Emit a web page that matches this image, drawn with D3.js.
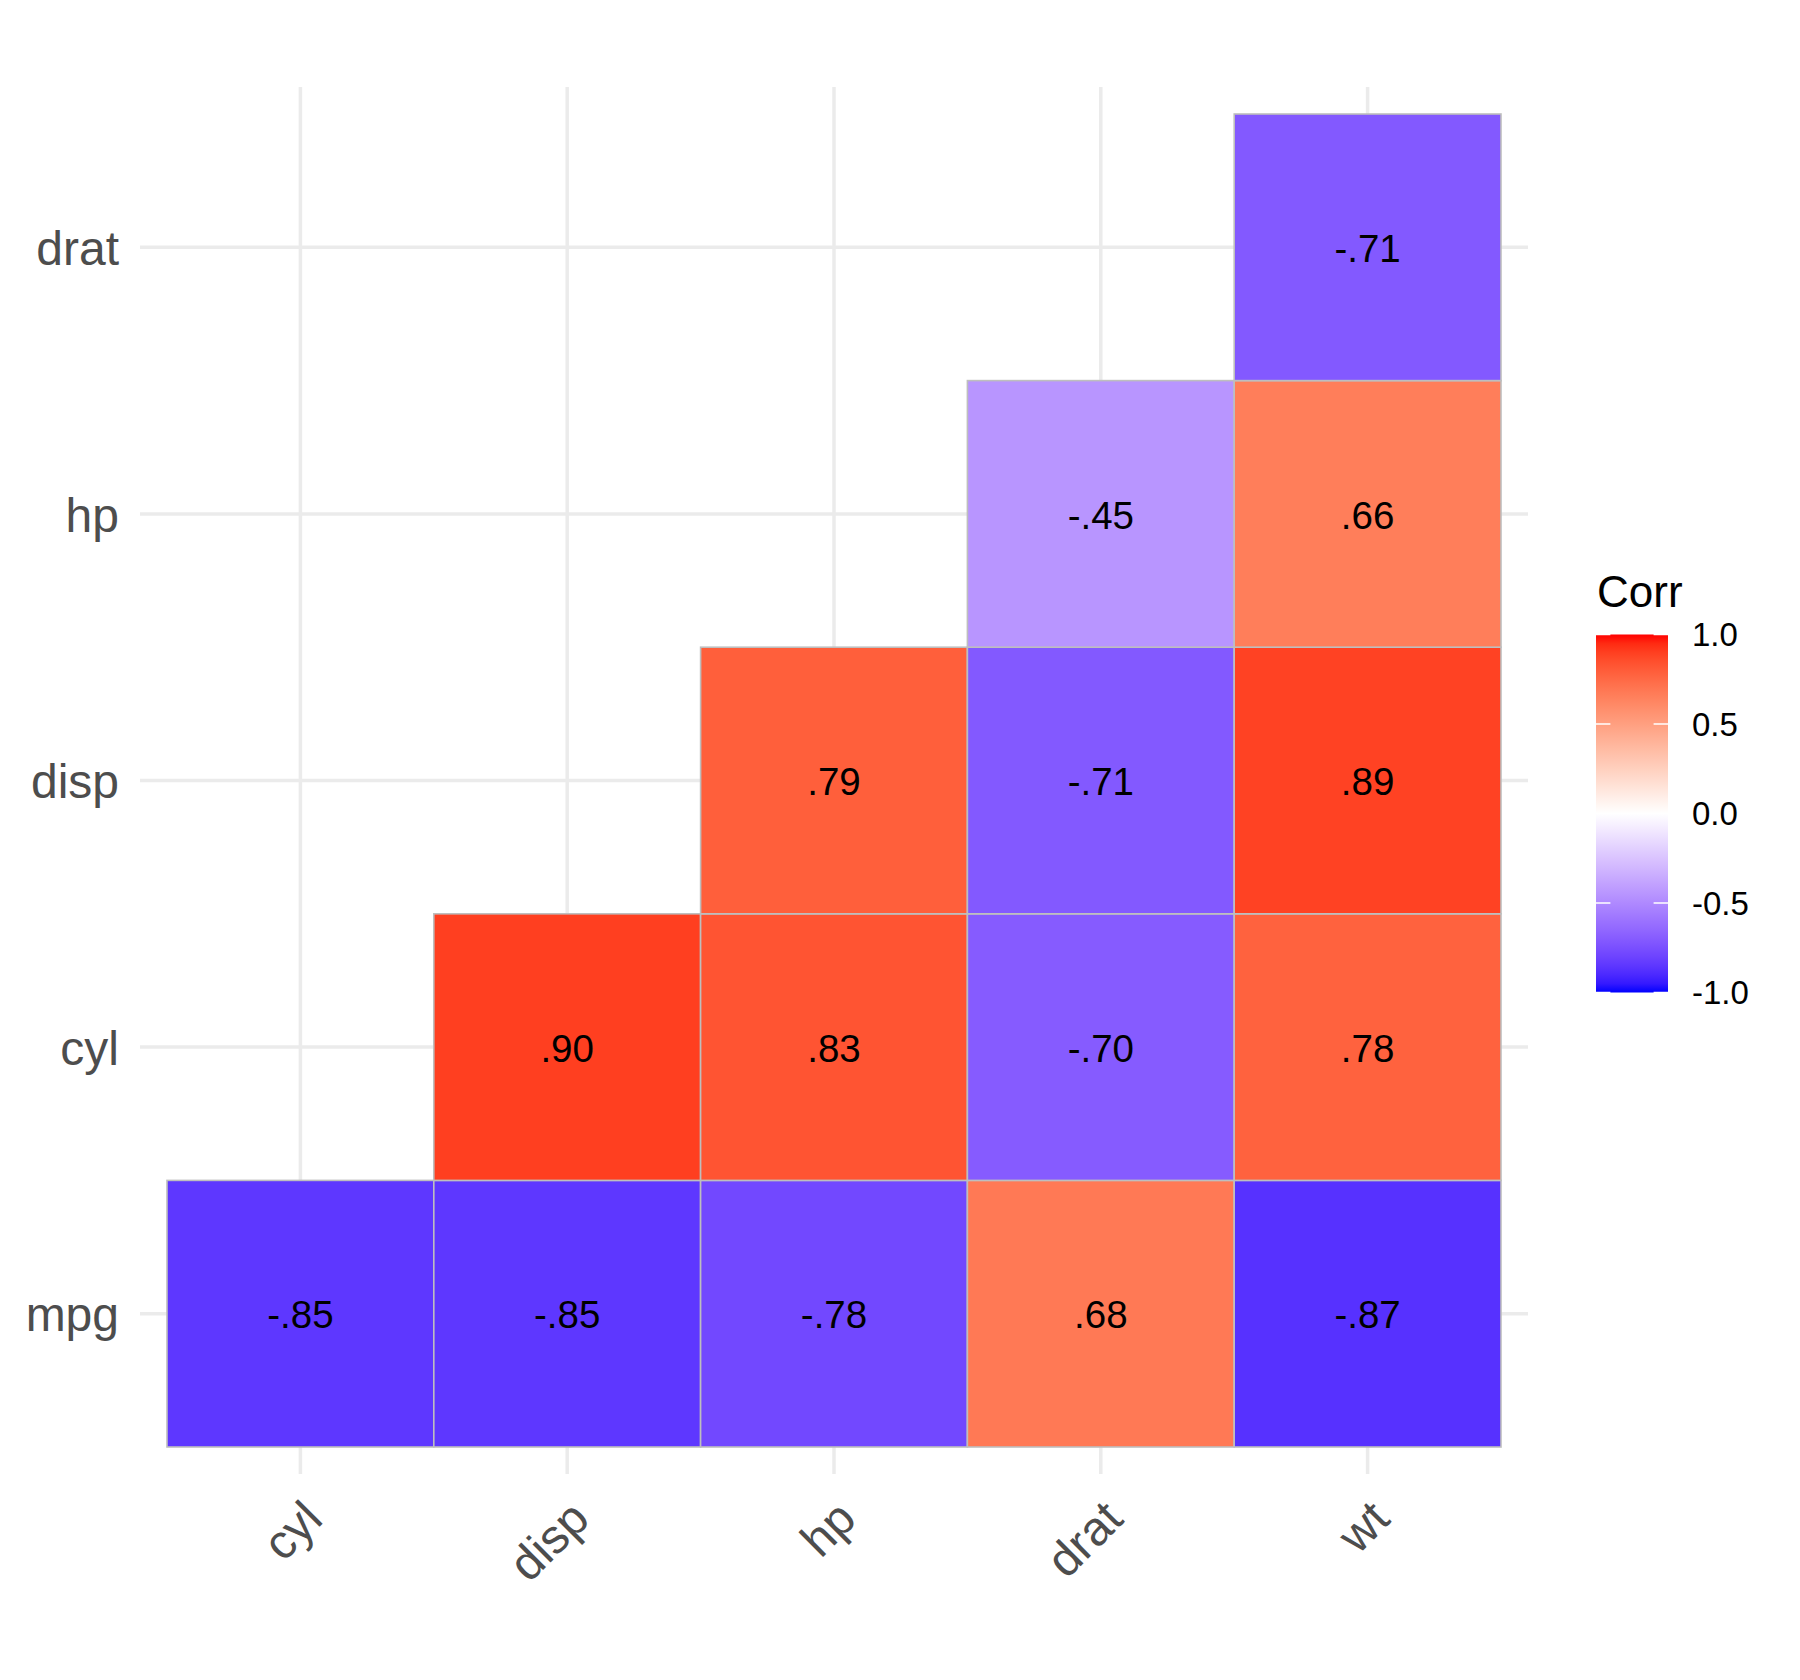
<!DOCTYPE html>
<html>
<head>
<meta charset="utf-8">
<script src="https://cdn.jsdelivr.net/npm/d3@7"></script>
<style>
    body { margin: 0; background: #fff; }
    text { font-family: "Liberation Sans", Arial, Helvetica, sans-serif; }
</style>
</head>
<body>
<script>
var xVars = ['cyl', 'disp', 'hp', 'drat', 'wt'];
var yVars = ['mpg', 'cyl', 'disp', 'hp', 'drat'];

// upper triangle of the mtcars correlation matrix, one row per y variable
var corrMpg  = [-0.85, -0.85, -0.78, 0.68, -0.87];
var corrCyl  = [null, 0.90, 0.83, -0.70, 0.78];
var corrDisp = [null, null, 0.79, -0.71, 0.89];
var corrHp   = [null, null, null, -0.45, 0.66];
var corrDrat = [null, null, null, null, -0.71];

var legendTicks = [1.0, 0.5, 0.0, -0.5, -1.0];

var width = 1800, height = 1680;

var rows = [corrMpg, corrCyl, corrDisp, corrHp, corrDrat];
var cells = [];
rows.forEach(function(row, j) {
    row.forEach(function(v, i) {
        if (v !== null) {
            cells.push({x: xVars[i], y: yVars[j], value: v});
        }
    });
});

var svg = d3.select('body').append('svg')
    .attr('width', width)
    .attr('height', height);

svg.append('rect')
    .attr('width', width)
    .attr('height', height)
    .attr('fill', '#fff');

var x = d3.scaleBand()
    .domain(xVars)
    .range([167, 1501]);

var y = d3.scaleBand()
    .domain(yVars.slice().reverse())
    .range([114, 1447]);

var panel = {left: 140, right: 1528, top: 87, bottom: 1474};

function fill(v) {
    return v >= 0 ?
        d3.interpolateLab('#ffffff', '#ff0000')(v) :
        d3.interpolateLab('#ffffff', '#0000ff')(-v);
}

var color = d3.scaleLinear()
    .domain([-1, 1])
    .range([0, 1]);

// plain hyphen, no leading zero: -.85
function formatCorr(v) {
    return (v < 0 ? '-' : '') + Math.abs(v).toFixed(2).replace(/^0/, '');
}

// grid
var grid = svg.append('g')
    .attr('stroke', '#ebebeb')
    .attr('stroke-width', 3.5);

grid.selectAll('line.gx')
    .data(xVars)
    .enter().append('line')
    .attr('class', 'gx')
    .attr('x1', function(d) { return x(d) + x.bandwidth() / 2; })
    .attr('x2', function(d) { return x(d) + x.bandwidth() / 2; })
    .attr('y1', panel.top)
    .attr('y2', panel.bottom);

grid.selectAll('line.gy')
    .data(yVars)
    .enter().append('line')
    .attr('class', 'gy')
    .attr('x1', panel.left)
    .attr('x2', panel.right)
    .attr('y1', function(d) { return y(d) + y.bandwidth() / 2; })
    .attr('y2', function(d) { return y(d) + y.bandwidth() / 2; });

// tiles
svg.append('g').selectAll('rect')
    .data(cells)
    .enter().append('rect')
    .attr('x', function(d) { return x(d.x); })
    .attr('y', function(d) { return y(d.y); })
    .attr('width', x.bandwidth())
    .attr('height', y.bandwidth())
    .attr('fill', function(d) { return fill(d.value); })
    .attr('stroke', '#bebebe')
    .attr('stroke-width', 1.6);

svg.append('g').selectAll('text')
    .data(cells)
    .enter().append('text')
    .attr('x', function(d) { return x(d.x) + x.bandwidth() / 2; })
    .attr('y', function(d) { return y(d.y) + y.bandwidth() / 2; })
    .attr('dy', '0.38em')
    .attr('text-anchor', 'middle')
    .attr('font-size', 38.5)
    .attr('fill', '#000')
    .text(function(d) { return formatCorr(d.value); });

// y axis labels
svg.append('g').selectAll('text')
    .data(yVars)
    .enter().append('text')
    .attr('x', 119)
    .attr('y', function(d) { return y(d) + y.bandwidth() / 2; })
    .attr('dy', '0.37em')
    .attr('text-anchor', 'end')
    .attr('font-size', 48)
    .attr('fill', '#4d4d4d')
    .text(function(d) { return d; });

// x axis labels, rotated 45 degrees
svg.append('g').selectAll('text')
    .data(xVars)
    .enter().append('text')
    .attr('transform', function(d) {
        return 'translate(' + (x(d) + x.bandwidth() / 2) + ',1497) rotate(-45)';
    })
    .attr('dy', '0.72em')
    .attr('text-anchor', 'end')
    .attr('font-size', 48)
    .attr('fill', '#4d4d4d')
    .text(function(d) { return d; });

// legend
var legend = {left: 1596, width: 72, top: 634.5, bottom: 992.5};

var ly = d3.scaleLinear()
    .domain([-1, 1])
    .range([legend.bottom, legend.top]);

var grad = svg.append('defs').append('linearGradient')
    .attr('id', 'corr-grad')
    .attr('x1', 0).attr('x2', 0)
    .attr('y1', 1).attr('y2', 0);

grad.selectAll('stop')
    .data(d3.range(-1, 1.0001, 0.05))
    .enter().append('stop')
    .attr('offset', function(d) { return color(d); })
    .attr('stop-color', function(d) { return fill(Math.max(-1, Math.min(1, d))); });

svg.append('text')
    .attr('x', 1597)
    .attr('y', 607)
    .attr('font-size', 44)
    .attr('fill', '#000')
    .text('Corr');

svg.append('rect')
    .attr('x', legend.left)
    .attr('y', legend.top)
    .attr('width', legend.width)
    .attr('height', legend.bottom - legend.top)
    .attr('fill', 'url(#corr-grad)');

var tickLen = legend.width / 5;
var lt = svg.append('g')
    .attr('stroke', '#fff')
    .attr('stroke-width', 1.5);

lt.selectAll('line.l')
    .data(legendTicks)
    .enter().append('line')
    .attr('class', 'l')
    .attr('x1', legend.left)
    .attr('x2', legend.left + tickLen)
    .attr('y1', ly)
    .attr('y2', ly);

lt.selectAll('line.r')
    .data(legendTicks)
    .enter().append('line')
    .attr('class', 'r')
    .attr('x1', legend.left + legend.width - tickLen)
    .attr('x2', legend.left + legend.width)
    .attr('y1', ly)
    .attr('y2', ly);

svg.append('g').selectAll('text')
    .data(legendTicks)
    .enter().append('text')
    .attr('x', 1692)
    .attr('y', ly)
    .attr('dy', '0.36em')
    .attr('font-size', 33)
    .attr('fill', '#000')
    .text(function(d) { return (d < 0 ? '-' : '') + Math.abs(d).toFixed(1); });
</script>
</body>
</html>
